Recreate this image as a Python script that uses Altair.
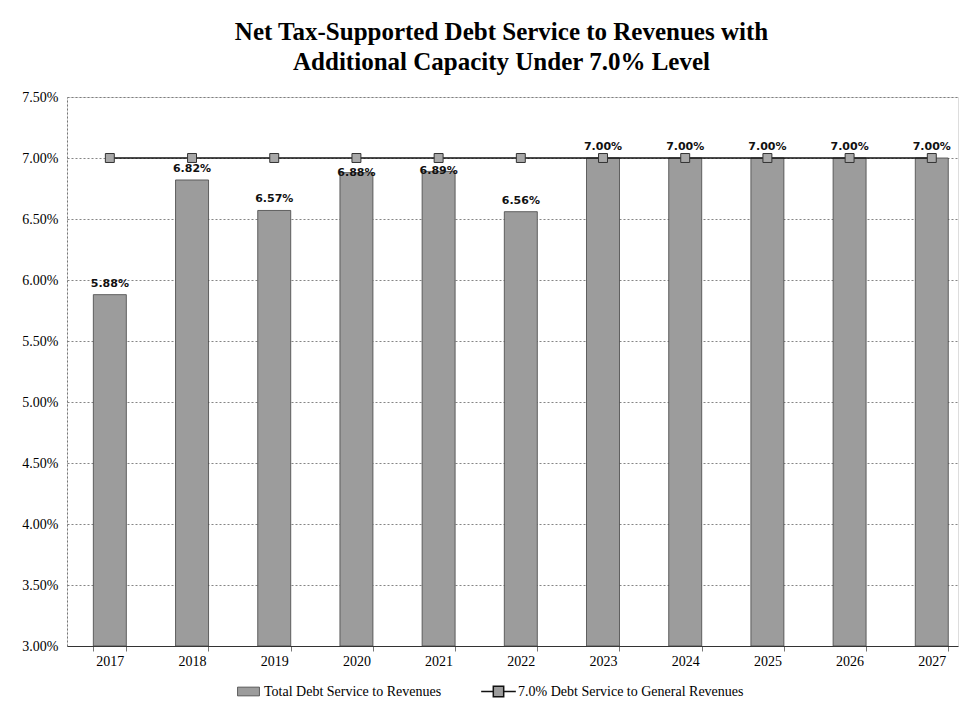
import altair as alt
import pandas as pd

years = ["2017", "2018", "2019", "2020", "2021", "2022", "2023", "2024", "2025", "2026", "2027"]
ratios = [5.88, 6.82, 6.57, 6.88, 6.89, 6.56, 7.00, 7.00, 7.00, 7.00, 7.00]
limit = [7.00] * 11
bar_name = "Total Debt Service to Revenues"
line_name = "7.0% Debt Service to General Revenues"
y_min, y_max = 0.03, 0.075

df = pd.DataFrame({
    "year": years,
    "ratio": [r / 100 for r in ratios],
    "label": [f"{r:.2f}%" for r in ratios],
    "limit": [v / 100 for v in limit],
    "s1": bar_name,
    "s2": line_name,
})

serif = "Liberation Serif"
x_scale = alt.Scale(paddingInner=0.6, paddingOuter=0.22, align=0.73)

x = alt.X("year:N", title=None, sort=years, scale=x_scale,
          axis=alt.Axis(labelAngle=0, labelFont=serif, labelFontSize=14, labelColor="#000",
                        domainColor="#333", tickColor="#777", tickBand="extent", tickSize=5,
                        labelPadding=3, grid=False))
y_scale = alt.Scale(domain=[y_min, y_max], nice=False, zero=False)
y_axis = alt.Axis(format=".2%", values=[0.03 + 0.005 * i for i in range(10)], title=None,
                  labelFont=serif, labelFontSize=14, labelColor="#000",
                  gridColor="#666", gridDash=[2, 2], gridWidth=0.8,
                  domainColor="#777", domainDash=[2, 2], ticks=False, labelPadding=9)

bars = alt.Chart(df).mark_bar(size=33, stroke="#444", strokeWidth=0.8).encode(
    x=x,
    y=alt.Y("ratio:Q", scale=y_scale, axis=y_axis),
    y2=alt.datum(y_min),
    fill=alt.Fill("s1:N", scale=alt.Scale(domain=[bar_name], range=["#9c9c9c"]),
                  legend=alt.Legend(title=None, orient="none", legendX=170, legendY=583,
                                    labelFont=serif, labelFontSize=14, labelColor="#000",
                                    labelLimit=0,
                                    symbolType="M-1,-0.4H1V0.4H-1Z", symbolSize=480,
                                    symbolStrokeColor="#444", symbolStrokeWidth=0.8)),
)

line = alt.Chart(df).mark_line(color="#111", strokeWidth=1.5).encode(
    x=alt.X("year:N", sort=years, scale=x_scale),
    y=alt.Y("limit:Q", scale=y_scale),
    stroke=alt.Stroke("s2:N", scale=alt.Scale(domain=[line_name], range=["#111"]),
                      legend=alt.Legend(title=None, orient="none", legendX=413, legendY=576,
                                        labelFont=serif, labelFontSize=14, labelColor="#000",
                                        labelLimit=0, labelOffset=1,
                                        symbolType="M-1,0H-0.3M0.3,0H1M-0.3,-0.3H0.3V0.3H-0.3Z",
                                        symbolSize=1200, symbolStrokeWidth=1.5,
                                        symbolFillColor="#9c9c9c")),
)

points = alt.Chart(df).mark_point(shape="square", size=80, filled=True, fill="#a8a8a8",
                                  stroke="#333", strokeWidth=1, opacity=1).encode(
    x=alt.X("year:N", sort=years, scale=x_scale),
    y=alt.Y("limit:Q", scale=y_scale),
)

normal = ["2017", "2018", "2019", "2022", "2023", "2024", "2025", "2026", "2027"]
labels_above = alt.Chart(df).transform_filter(
    alt.FieldOneOfPredicate(field="year", oneOf=normal)
).mark_text(font="DejaVu Sans", fontWeight="bold", fontSize=11, baseline="bottom", dy=-6,
            color="#111").encode(
    x=alt.X("year:N", sort=years, scale=x_scale),
    y=alt.Y("ratio:Q", scale=y_scale),
    text="label:N",
)
labels_on = alt.Chart(df).transform_filter(
    alt.FieldOneOfPredicate(field="year", oneOf=["2020", "2021"])
).mark_text(font="DejaVu Sans", fontWeight="bold", fontSize=11, baseline="middle", dy=0,
            color="#111").encode(
    x=alt.X("year:N", sort=years, scale=x_scale),
    y=alt.Y("ratio:Q", scale=y_scale),
    text="label:N",
)

chart = alt.layer(bars, line, points, labels_above, labels_on).resolve_legend(
    fill="independent", stroke="independent"
).properties(
    width=891, height=549,
    title=alt.Title(["Net Tax-Supported Debt Service to Revenues with",
                     "Additional Capacity Under 7.0% Level"],
                    font=serif, fontSize=25, fontWeight="bold", color="#000",
                    anchor="middle", offset=15, lineHeight=30, dx=-11),
    padding={"left": 67, "top": 97, "right": 21, "bottom": 69},
    autosize=alt.AutoSizeParams(type="none"),
).configure_view(stroke=None).configure(background="white")

chart.save("out.html", embed_options={"renderer": "svg", "actions": False})
